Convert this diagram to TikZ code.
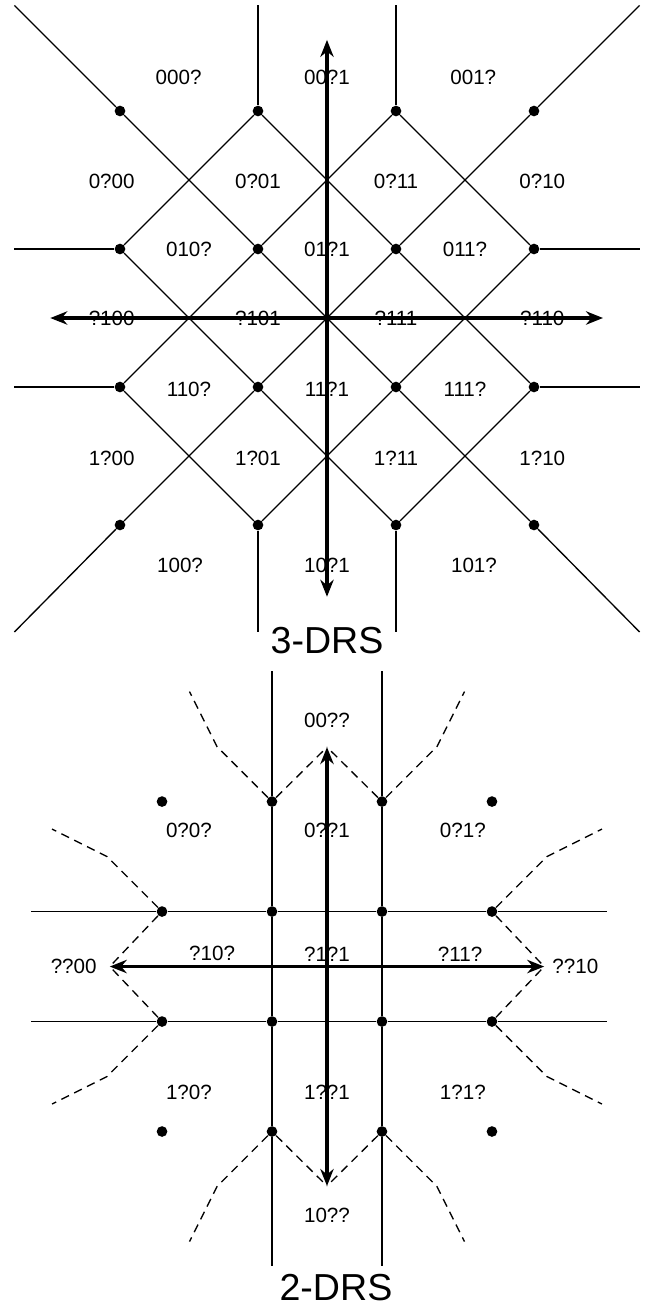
\documentclass[tikz,border=0pt]{standalone}
\usepackage{fontspec}
\setmainfont{Liberation Sans}
\usetikzlibrary{arrows.meta}

\tikzset{
  vertex/.style={circle, fill=black, inner sep=0pt, minimum size=4.4pt},
  wire/.style={line width=0.55pt},
  drsaxis/.style={line width=1.6pt, <->},
  region/.style={line width=0.55pt, dash pattern=on 3.5pt off 2.4pt},
  cell/.style={inner sep=0pt, font=\fontsize{8.5}{10}\selectfont},
  caption/.style={inner sep=0pt, font=\fontsize{15.5}{18}\selectfont}
}

\begin{document}
\begin{tikzpicture}[>={Stealth[length=7pt,width=5.5pt]}]

    \useasboundingbox (-4.7391,-14.3188) rectangle (4.6667,4.6087);

    % =================================================================
    % 1. 3-DRS: CÁC ĐIỂM VÀ CÁC ĐƯỜNG CHÉO
    % =================================================================
    \foreach \c in {1,...,4}
      \foreach \r in {1,...,4}
        \node[vertex] (t\c\r) at ({2*\c-5},{2*\r-5}) {};

    \coordinate (tNW) at (-4.53,4.53);
    \coordinate (tNE) at (4.53,4.53);
    \coordinate (tSW) at (-4.53,-4.55);
    \coordinate (tSE) at (4.53,-4.55);

    % Hai đường chéo chính
    \draw[wire] (tNW) -- (t14) -- (t23) -- (t32) -- (t41) -- (tSE);
    \draw[wire] (tSW) -- (t11) -- (t22) -- (t33) -- (t44) -- (tNE);

    % Các cạnh của hình thoi
    \draw[wire] (t24) -- (t33) -- (t42);
    \draw[wire] (t13) -- (t22) -- (t31);
    \draw[wire] (t34) -- (t43);
    \draw[wire] (t12) -- (t21);
    \draw[wire] (t12) -- (t23) -- (t34);
    \draw[wire] (t21) -- (t32) -- (t43);
    \draw[wire] (t13) -- (t24);
    \draw[wire] (t31) -- (t42);

    % Các đoạn thẳng đứng và nằm ngang ra mép
    \draw[wire] (t24) -- (t24 |- tNW);
    \draw[wire] (t34) -- (t34 |- tNE);
    \draw[wire] (t21) -- (t21 |- tSW);
    \draw[wire] (t31) -- (t31 |- tSE);
    \draw[wire] (t13) -- (t13 -| tNW);
    \draw[wire] (t12) -- (t12 -| tSW);
    \draw[wire] (t43) -- (t43 -| tNE);
    \draw[wire] (t42) -- (t42 -| tSE);

    % Hai trục mũi tên
    \coordinate (tUp) at (0,4.03);
    \coordinate (tDown) at (0,-4.04);
    \coordinate (tLeft) at (-4.01,0);
    \coordinate (tRight) at (4.0,0);
    \draw[drsaxis] (tDown) -- (tUp);
    \draw[drsaxis] (tLeft) -- (tRight);

    % =================================================================
    % 2. 3-DRS: NHÃN CÁC MIỀN
    % =================================================================
    \node[cell] (n000x) at (-2.15,3.49) {000?};
    \node[cell] (n00x1) at (0,3.49) {00?1};
    \node[cell] (n001x) at (2.12,3.49) {001?};

    \node[cell] (n0x00) at (-3.12,1.98) {0?00};
    \node[cell] (n0x01) at (-1,1.98) {0?01};
    \node[cell] (n0x11) at (1,1.98) {0?11};
    \node[cell] (n0x10) at (3.12,1.98) {0?10};

    \node[cell] (n010x) at (-2,0.99) {010?};
    \node[cell] (n01x1) at (0,0.99) {01?1};
    \node[cell] (n011x) at (2,0.99) {011?};

    \node[cell] (nx100) at (-3.12,0) {?100};
    \node[cell] (nx101) at (-1,0) {?101};
    \node[cell] (nx111) at (1,0) {?111};
    \node[cell] (nx110) at (3.12,0) {?110};

    \node[cell] (n110x) at (-2,-1.04) {110?};
    \node[cell] (n11x1) at (0,-1.04) {11?1};
    \node[cell] (n111x) at (2,-1.04) {111?};

    \node[cell] (n1x00) at (-3.12,-2.04) {1?00};
    \node[cell] (n1x01) at (-1,-2.04) {1?01};
    \node[cell] (n1x11) at (1,-2.04) {1?11};
    \node[cell] (n1x10) at (3.12,-2.04) {1?10};

    \node[cell] (n100x) at (-2.13,-3.58) {100?};
    \node[cell] (n10x1) at (0,-3.58) {10?1};
    \node[cell] (n101x) at (2.13,-3.58) {101?};

    \node[caption] (drs3) at (0,-4.674) {3-DRS};

    % =================================================================
    % 3. 2-DRS: LƯỚI, TRỤC VÀ ĐƯỜNG NÉT ĐỨT
    % =================================================================
    \begin{scope}[yshift=-9.399cm, x=0.797cm, y=0.797cm]

    \foreach \c in {1,...,4}
      \foreach \r in {1,...,4}
        \node[vertex] (b\c\r) at ({2*\c-5},{2*\r-5}) {};

    \coordinate (bN) at (0,5.37);
    \coordinate (bS) at (0,-5.45);
    \coordinate (bW) at (-5.38,0);
    \coordinate (bE) at (5.09,0);

    % Hai đường thẳng đứng, hai đường nằm ngang
    \draw[wire] (b24 |- bN) -- (b24) -- (b23) -- (b22) -- (b21) -- (b21 |- bS);
    \draw[wire] (b34 |- bN) -- (b34) -- (b33) -- (b32) -- (b31) -- (b31 |- bS);
    \draw[wire] (b13 -| bW) -- (b13) -- (b23) -- (b33) -- (b43) -- (b43 -| bE);
    \draw[wire] (b12 -| bW) -- (b12) -- (b22) -- (b32) -- (b42) -- (b42 -| bE);

    % Hai trục mũi tên
    \coordinate (bUp) at (0,3.99);
    \coordinate (bDown) at (0,-3.99);
    \coordinate (bLeft) at (-3.95,0);
    \coordinate (bRight) at (3.95,0);
    \draw[drsaxis] (bDown) -- (bUp);
    \draw[drsaxis] (bLeft) -- (bRight);

    % Đường nét đứt
    \draw[region] (b24) -- (bUp);
    \draw[region] (b34) -- (bUp);
    \draw[region] (b21) -- (bDown);
    \draw[region] (b31) -- (bDown);
    \draw[region] (b13) -- (bLeft);
    \draw[region] (b12) -- (bLeft);
    \draw[region] (b43) -- (bRight);
    \draw[region] (b42) -- (bRight);

    \draw[region] (b24) -- ++(-1,1) -- ++(-0.5,1);
    \draw[region] (b34) -- ++(1,1) -- ++(0.5,1);
    \draw[region] (b21) -- ++(-1,-1) -- ++(-0.5,-1);
    \draw[region] (b31) -- ++(1,-1) -- ++(0.5,-1);
    \draw[region] (b13) -- ++(-1,1) -- ++(-1,0.5);
    \draw[region] (b12) -- ++(-1,-1) -- ++(-1,-0.5);
    \draw[region] (b43) -- ++(1,1) -- ++(1,0.5);
    \draw[region] (b42) -- ++(1,-1) -- ++(1,-0.5);

    % =================================================================
    % 4. 2-DRS: NHÃN CÁC MIỀN
    % =================================================================
    \node[cell] (m00xx) at (0,4.48) {00??};

    \node[cell] (m0x0x) at (-2.51,2.48) {0?0?};
    \node[cell] (m0xx1) at (0,2.48) {0??1};
    \node[cell] (m0x1x) at (2.47,2.48) {0?1?};

    \node[cell, anchor=east] (mxx00) at (-4.18,0) {??00};
    \node[cell] (mx10x) at (-2.09,0.23) {?10?};
    \node[cell] (mx1x1) at (0,0.23) {?1?1};
    \node[cell] (mx11x) at (2.42,0.23) {?11?};
    \node[cell, anchor=west] (mxx10) at (4.09,0) {??10};

    \node[cell] (m1x0x) at (-2.51,-2.28) {1?0?};
    \node[cell] (m1xx1) at (0,-2.28) {1??1};
    \node[cell] (m1x1x) at (2.47,-2.28) {1?1?};

    \node[cell] (m10xx) at (0,-4.52) {10??};

    \end{scope}

    \node[caption] (drs2) at (0.13,-14.05) {2-DRS};

\end{tikzpicture}
\end{document}
